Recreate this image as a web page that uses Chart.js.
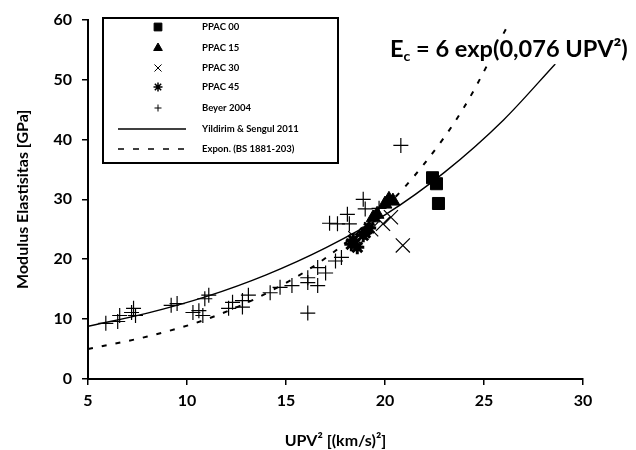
<!DOCTYPE html>
<html>
<head>
<meta charset="utf-8">
<script src="https://cdn.jsdelivr.net/npm/chart.js@4/dist/chart.umd.min.js"></script>
<style>
html,body{margin:0;padding:0;background:#fff;}
#wrap{width:636px;height:450px;position:relative;}
</style>
</head>
<body>
<div id="wrap"><canvas id="c" width="636" height="450"></canvas></div>
<script>
// ---- data ----
const ppac00X = [22.4, 22.6, 22.7];
const ppac00Y = [33.6, 32.6, 29.3];
const ppac15X = [19.4, 19.6, 20.0, 20.2, 20.4];
const ppac15Y = [26.9, 27.5, 29.2, 30.0, 29.7];
const ppac30X = [20.9, 19.9, 20.3, 18.5, 19.3];
const ppac30Y = [22.3, 25.9, 27.0, 23.5, 25.0];
const ppac45X = [18.3, 18.4, 18.6, 19.0, 19.2, 18.9];
const ppac45Y = [22.5, 23.2, 22.0, 24.4, 25.2, 24.0];
const beyerX = [5.9, 6.5, 6.6, 7.2, 7.4, 7.3, 9.2, 9.5, 10.3, 10.6, 10.8, 10.9, 11.1, 12.1, 12.3, 12.8, 12.8, 13.1, 14.2, 14.7, 15.3, 16.1, 16.1, 16.1, 16.6, 16.6, 17.0, 17.5, 17.8, 17.2, 17.6, 18.2, 18.1, 18.9, 19.0, 19.7, 20.8];
const beyerY = [9.3, 9.6, 10.6, 11.1, 10.6, 11.8, 12.3, 12.6, 11.1, 11.4, 10.6, 13.4, 14.0, 11.8, 12.8, 13.1, 12.0, 14.0, 14.4, 15.3, 15.6, 16.1, 11.0, 16.9, 18.6, 15.6, 17.7, 19.7, 20.3, 26.0, 25.9, 25.9, 27.5, 30.0, 28.4, 28.5, 39.0];
const yildirimX = [5, 8, 11, 14, 17, 20, 23, 26, 28.6];
const yildirimY = [8.8, 11.0, 13.8, 17.4, 21.9, 27.4, 34.5, 43.3, 52.6];
const exponX = [5, 8, 11, 14, 17, 20, 22, 24, 26.2];
const exponY = [5.0, 7.1, 10.0, 14.3, 20.2, 28.6, 36.0, 45.4, 59.0];
const xTicks = [5, 10, 15, 20, 25, 30];
const yTicks = [0, 10, 20, 30, 40, 50, 60];
const seriesNames = ["PPAC 00", "PPAC 15", "PPAC 30", "PPAC 45", "Beyer 2004", "Yildirim & Sengul 2011", "Expon. (BS 1881-203)"];
const axisTitleX = "UPV² [(km/s)²]";
const axisTitleY = "Modulus Elastisitas [GPa]";
const equationMain = "E";
const equationSub = "c";
const equationRest = " = 6 exp(0,076 UPV²)";

const pts = (xs, ys) => xs.map((x, i) => ({x: x, y: ys[i]}));
const FONT = "Lato, 'Open Sans', sans-serif";

const legendSpec = [
  {style:'rect', r:5.5, bw:1},
  {style:'triangle', r:5, bw:1},
  {style:'crossRot', r:5, bw:1},
  {style:'star', r:4.5, bw:1.5},
  {style:'cross', r:3.5, bw:1},
  {line:true, dash:[]},
  {line:true, dash:[6,9]}
];

const legendPlugin = {
  id: 'boxLegend',
  afterDatasetsDraw(chart) {
    const ctx = chart.ctx;
    const bx = 103, by = 18, bw = 235, bh = 145;
    ctx.save();
    ctx.fillStyle = '#fff';
    ctx.fillRect(bx, by, bw, bh);
    ctx.strokeStyle = '#000';
    ctx.lineWidth = 2;
    ctx.strokeRect(bx, by, bw, bh);
    const rowY = [27, 48, 68, 87, 108, 129, 149];
    chart.data.datasets.forEach((ds, i) => {
      const y = rowY[i];
      const sp = legendSpec[i];
      ctx.strokeStyle = '#000';
      ctx.fillStyle = '#000';
      if (sp.line) {
        ctx.setLineDash(sp.dash);
        ctx.lineWidth = 1.5;
        ctx.beginPath();
        ctx.moveTo(118, y);
        ctx.lineTo(186, y);
        ctx.stroke();
        ctx.setLineDash([]);
      } else {
        ctx.lineWidth = sp.bw;
        Chart.helpers.drawPoint(ctx, {pointStyle: sp.style, radius: sp.r, rotation: 0, borderWidth: sp.bw}, 158, y);
      }
      ctx.fillStyle = '#000';
      ctx.font = "bold 9.5px " + FONT;
      ctx.textBaseline = 'middle';
      ctx.textAlign = 'left';
      ctx.fillText(ds.label, 202, y);
    });
    // equation, with a white backing like the reference
    const x0 = 390, base = 57, targetW = 238;
    let size = 20;
    const measure = (s) => {
      ctx.font = "bold " + s + "px " + FONT;
      let w = ctx.measureText(equationMain + equationRest).width;
      ctx.font = "bold " + (s * 0.6) + "px " + FONT;
      w += ctx.measureText(equationSub).width;
      return w;
    };
    size = size * targetW / measure(size);
    ctx.fillStyle = '#fff';
    ctx.fillRect(x0 - 3, base - size * 0.85, targetW + 6, size * 1.15);
    ctx.fillStyle = '#000';
    ctx.textBaseline = 'alphabetic';
    let x = x0;
    ctx.font = "bold " + size + "px " + FONT;
    ctx.fillText(equationMain, x, base);
    x += ctx.measureText(equationMain).width;
    ctx.font = "bold " + (size * 0.6) + "px " + FONT;
    ctx.fillText(equationSub, x, base + 4);
    x += ctx.measureText(equationSub).width;
    ctx.font = "bold " + size + "px " + FONT;
    ctx.fillText(equationRest, x, base);
    ctx.restore();
  }
};

const scatterDs = (label, xs, ys, style, r, bw, fill) => ({
  type: 'scatter', label: label, data: pts(xs, ys),
  pointStyle: style, pointRadius: r, pointHoverRadius: r,
  pointBorderWidth: bw, borderColor: '#000',
  backgroundColor: fill ? '#000' : 'rgba(0,0,0,0)', showLine: false
});

new Chart(document.getElementById('c'), {
  type: 'scatter',
  data: {
    datasets: [
      scatterDs(seriesNames[0], ppac00X, ppac00Y, 'rect', 8.5, 1, true),
      scatterDs(seriesNames[1], ppac15X, ppac15Y, 'triangle', 8, 1, true),
      scatterDs(seriesNames[2], ppac30X, ppac30Y, 'crossRot', 10, 1.2, false),
      scatterDs(seriesNames[3], ppac45X, ppac45Y, 'star', 7, 3, false),
      scatterDs(seriesNames[4], beyerX, beyerY, 'cross', 7.5, 1.2, false),
      {type: 'line', label: seriesNames[5], data: pts(yildirimX, yildirimY), borderColor: '#000', borderWidth: 1.4, pointRadius: 0, fill: false, tension: 0.4, cubicInterpolationMode: 'monotone'},
      {type: 'line', label: seriesNames[6], data: pts(exponX, exponY), borderColor: '#000', borderWidth: 2, borderDash: [5, 9], pointRadius: 0, fill: false, tension: 0.4, cubicInterpolationMode: 'monotone'}
    ]
  },
  options: {
    responsive: false,
    animation: false,
    events: [],
    layout: {padding: {top: 18, right: 53, left: 0, bottom: 0}},
    plugins: {legend: {display: false}, tooltip: {enabled: false}},
    scales: {
      x: {
        type: 'linear', min: xTicks[0], max: xTicks[xTicks.length - 1],
        afterBuildTicks: (s) => { s.ticks = xTicks.map(v => ({value: v})); },
        afterFit: (s) => { s.height = 71; },
        ticks: {color: '#000', font: {family: FONT, size: 16, weight: 'bold'}, padding: 6},
        grid: {drawOnChartArea: false, drawTicks: true, tickLength: 6, color: '#000', lineWidth: 1.5},
        border: {display: true, color: '#000', width: 2},
        title: {display: true, text: axisTitleX, color: '#000', font: {family: FONT, size: 16, weight: 'bold'}, padding: {top: 0, bottom: 0}}
      },
      y: {
        type: 'linear', min: yTicks[0], max: yTicks[yTicks.length - 1],
        afterBuildTicks: (s) => { s.ticks = yTicks.map(v => ({value: v})); },
        afterFit: (s) => { s.width = 88; },
        ticks: {color: '#000', font: {family: FONT, size: 16, weight: 'bold'}, padding: 10},
        grid: {drawOnChartArea: false, drawTicks: true, tickLength: 6, color: '#000', lineWidth: 1.5},
        border: {display: true, color: '#000', width: 2},
        title: {display: true, text: axisTitleY, color: '#000', font: {family: FONT, size: 16, weight: 'bold'}, padding: {top: 13, bottom: 0}}
      }
    }
  },
  plugins: [legendPlugin]
});
</script>
</body>
</html>
